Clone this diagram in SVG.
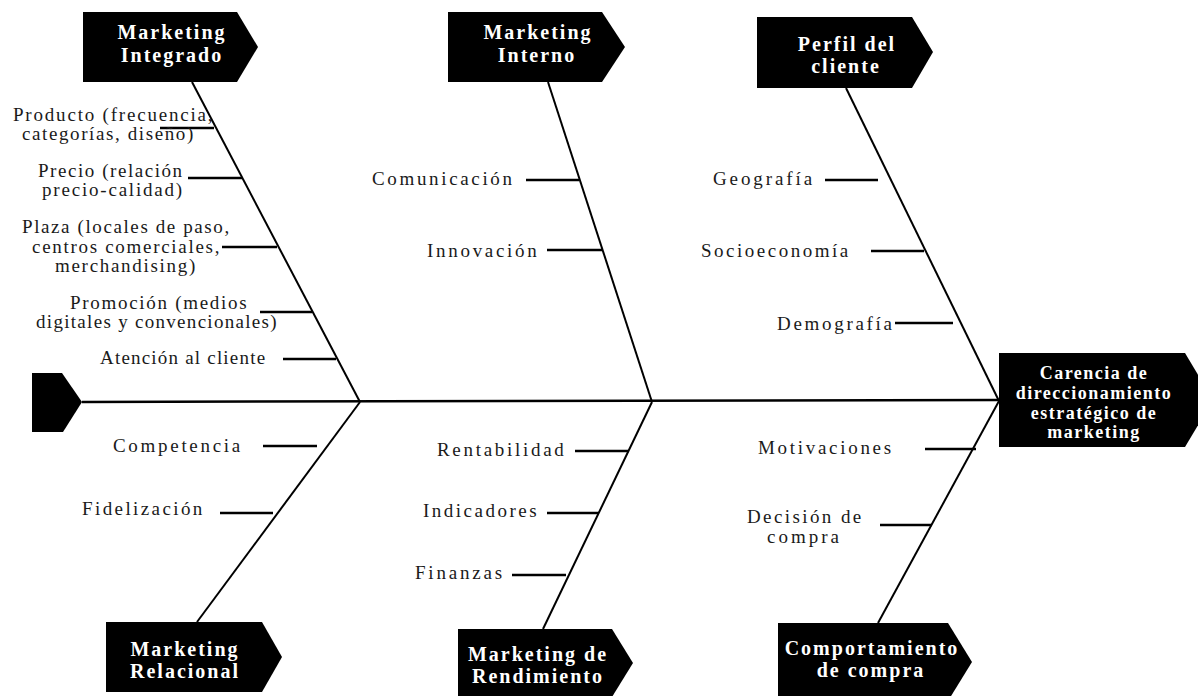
<svg xmlns="http://www.w3.org/2000/svg" width="1198" height="696" viewBox="0 0 1198 696">
  <style>
    .box { fill: #000; }
    .head { font-family: "Liberation Serif", "Times New Roman", serif; font-weight: bold; font-size: 20px; letter-spacing: 2px; fill: #fff; text-anchor: middle; }
    .head.sm { font-size: 18px; letter-spacing: 1.5px; }
    .lbl { font-family: "Liberation Serif", "Times New Roman", serif; font-size: 19px; fill: #1a1a1a; }
    .spine { stroke: #000; stroke-width: 2.5; fill: none; }
    .bone { stroke: #000; stroke-width: 2; fill: none; }
    .rib { stroke: #000; stroke-width: 2.5; fill: none; }
  </style>
  <rect width="1198" height="696" fill="#fff"/>

  <!-- spine, bones and ribs -->
  <g id="connectors">
    <line class="spine" x1="82" y1="402" x2="999" y2="400"/>
    <line class="bone" x1="192" y1="82" x2="360" y2="402"/>
    <line class="bone" x1="548" y1="82" x2="652" y2="402"/>
    <line class="bone" x1="846" y1="88" x2="999" y2="401"/>
    <line class="bone" x1="197" y1="622" x2="360" y2="402"/>
    <line class="bone" x1="543" y1="629" x2="652" y2="402"/>
    <line class="bone" x1="878" y1="623" x2="999" y2="401"/>

    <line class="rib" x1="160" y1="128" x2="214" y2="128"/>
    <line class="rib" x1="188" y1="178" x2="242" y2="178"/>
    <line class="rib" x1="222" y1="247" x2="277" y2="247"/>
    <line class="rib" x1="260" y1="312" x2="312" y2="312"/>
    <line class="rib" x1="283" y1="359" x2="336" y2="359"/>

    <line class="rib" x1="526" y1="180" x2="579" y2="180"/>
    <line class="rib" x1="547" y1="250" x2="602" y2="250"/>

    <line class="rib" x1="825" y1="180" x2="878" y2="180"/>
    <line class="rib" x1="871" y1="251" x2="924" y2="251"/>
    <line class="rib" x1="895" y1="323" x2="953" y2="323"/>

    <line class="rib" x1="263" y1="446" x2="317" y2="446"/>
    <line class="rib" x1="220" y1="513" x2="273" y2="513"/>

    <line class="rib" x1="575" y1="451" x2="629" y2="451"/>
    <line class="rib" x1="547" y1="513" x2="599" y2="513"/>
    <line class="rib" x1="512" y1="575" x2="566" y2="575"/>

    <line class="rib" x1="925" y1="449" x2="976" y2="449"/>
    <line class="rib" x1="880" y1="525" x2="932" y2="525"/>
  </g>

  <!-- tail of the fish -->
  <g id="tail">
    <polygon class="box" points="32,373 62,373 82,402 63,432 32,432"/>
  </g>

  <!-- effect -->
  <g id="effect">
    <polygon class="box" points="999,353 1185,353 1213,400 1185,447 999,447"/>
    <text class="head sm" x="1094" y="379">Carencia de</text>
    <text class="head sm" x="1094" y="399">direccionamiento</text>
    <text class="head sm" x="1094" y="419">estratégico de</text>
    <text class="head sm" x="1094" y="438">marketing</text>
  </g>

  <!-- category heads -->
  <g id="marketing-integrado">
    <polygon class="box" points="83,12 237,12 258,47 237,82 83,82"/>
    <text class="head" x="172" y="39">Marketing</text>
    <text class="head" x="172" y="62">Integrado</text>
  </g>
  <g id="marketing-interno">
    <polygon class="box" points="448,12 602,12 625,47 602,82 448,82"/>
    <text class="head" x="538" y="39">Marketing</text>
    <text class="head" x="537" y="62">Interno</text>
  </g>
  <g id="perfil-cliente">
    <polygon class="box" points="757,17 912,17 933,52 912,88 757,88"/>
    <text class="head" x="847" y="51">Perfil del</text>
    <text class="head" x="846" y="73">cliente</text>
  </g>
  <g id="marketing-relacional">
    <polygon class="box" points="106,622 262,622 282,657 262,692 106,692"/>
    <text class="head" x="185" y="656">Marketing</text>
    <text class="head" x="185" y="678">Relacional</text>
  </g>
  <g id="marketing-rendimiento">
    <polygon class="box" points="458,629 612,629 633,663 612,697 458,697"/>
    <text class="head" x="538" y="661">Marketing de</text>
    <text class="head" x="538" y="683">Rendimiento</text>
  </g>
  <g id="comportamiento-compra">
    <polygon class="box" points="778,623 948,623 972,662 948,701 778,701"/>
    <text class="head" x="872" y="655">Comportamiento</text>
    <text class="head" x="871" y="677">de compra</text>
  </g>

  <!-- cause labels -->
  <g id="causes-integrado">
    <text class="lbl" x="13" y="121" letter-spacing="1.8">Producto (frecuencia,</text>
    <text class="lbl" x="22" y="140" letter-spacing="1.6">categorías, diseño)</text>
    <text class="lbl" x="38" y="177" letter-spacing="1.55">Precio (relación</text>
    <text class="lbl" x="42" y="196" letter-spacing="1.8">precio-calidad)</text>
    <text class="lbl" x="22" y="233" letter-spacing="1.6">Plaza (locales de paso,</text>
    <text class="lbl" x="32" y="253" letter-spacing="1.7">centros comerciales,</text>
    <text class="lbl" x="55" y="272" letter-spacing="1.7">merchandising)</text>
    <text class="lbl" x="70" y="309" letter-spacing="1.7">Promoción (medios</text>
    <text class="lbl" x="36" y="328" letter-spacing="1.3">digitales y convencionales)</text>
    <text class="lbl" x="100" y="364" letter-spacing="1.2">Atención al cliente</text>
  </g>
  <g id="causes-interno">
    <text class="lbl" x="372" y="185" letter-spacing="2.65">Comunicación</text>
    <text class="lbl" x="427" y="257" letter-spacing="2.7">Innovación</text>
  </g>
  <g id="causes-perfil">
    <text class="lbl" x="713" y="185" letter-spacing="2.9">Geografía</text>
    <text class="lbl" x="701" y="257" letter-spacing="2.5">Socioeconomía</text>
    <text class="lbl" x="777" y="330" letter-spacing="2.7">Demografía</text>
  </g>
  <g id="causes-relacional">
    <text class="lbl" x="113" y="452" letter-spacing="2.7">Competencia</text>
    <text class="lbl" x="82" y="515" letter-spacing="2.4">Fidelización</text>
  </g>
  <g id="causes-rendimiento">
    <text class="lbl" x="437" y="456" letter-spacing="2.7">Rentabilidad</text>
    <text class="lbl" x="423" y="517" letter-spacing="2.5">Indicadores</text>
    <text class="lbl" x="415" y="579" letter-spacing="2.8">Finanzas</text>
  </g>
  <g id="causes-comportamiento">
    <text class="lbl" x="758" y="454" letter-spacing="2.7">Motivaciones</text>
    <text class="lbl" x="747" y="523" letter-spacing="2.4">Decisión de</text>
    <text class="lbl" x="767" y="543" letter-spacing="3.0">compra</text>
  </g>
</svg>
